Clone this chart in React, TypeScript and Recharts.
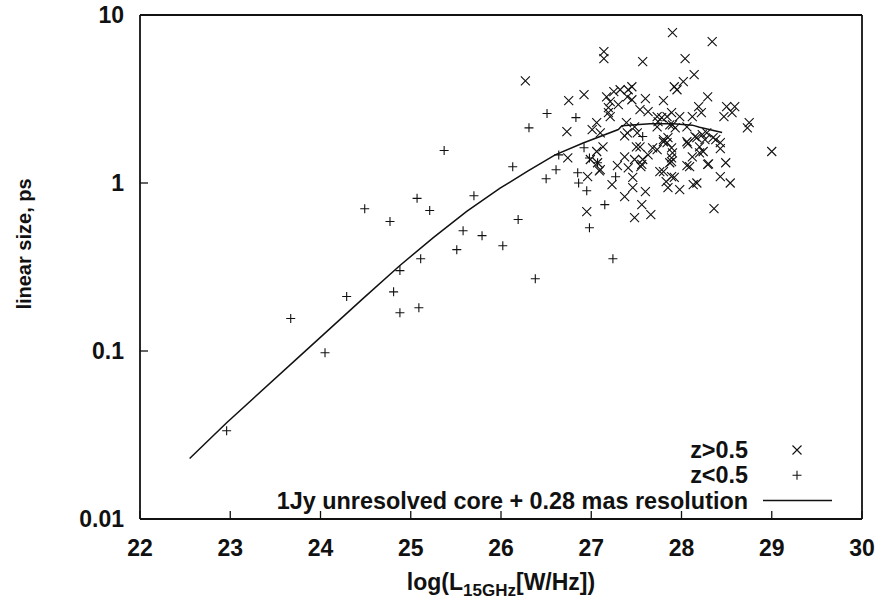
import React from "react";
import { ScatterChart, Scatter, XAxis, YAxis, Legend } from "recharts";

const FONT = '"Liberation Sans", Arial, Helvetica, sans-serif';
const INK = "#111";

// z > 0.5 sources: log L(15 GHz) and linear size (pc)
const highZ_logL = [
  27.9, 28.34, 27.14, 27.14, 27.57, 28.04, 26.27, 28.14, 28.02, 27.92,
  27.95, 26.92, 26.75, 28.29, 27.8, 27.6, 27.17, 27.25, 27.32, 27.41,
  27.45, 27.4, 27.21, 27.3, 27.45, 27.19, 27.21, 27.54, 27.63, 27.73,
  27.89, 27.98, 28.12, 28.19, 28.22, 28.5, 28.59, 28.56, 28.47, 28.75,
  28.73, 26.73, 27.06, 27.01, 27.39, 27.48, 27.73, 27.9, 27.93, 28.06,
  27.4, 27.37, 27.51, 27.1, 27.13, 27.06, 26.99, 27.1, 26.74, 26.96,
  27.23, 27.29, 27.37, 27.41, 27.46, 27.46, 27.37, 27.6, 27.56, 27.66,
  27.48, 26.95, 27.5, 27.57, 27.56, 27.63, 27.68, 27.73, 27.8, 27.84,
  27.9, 27.89, 27.8, 27.89, 27.83, 27.85, 27.98, 28.13, 28.17, 28.06,
  28.09, 28.07, 28.17, 28.2, 28.24, 28.3, 28.28, 28.35, 28.38, 28.43,
  28.43, 28.49, 28.43, 28.54, 28.36, 29.0, 27.78, 27.84, 27.07, 27.19,
  27.54, 27.48, 27.74, 27.87, 27.85, 27.8, 27.89, 28.06, 28.15, 28.23,
  28.26, 28.2, 28.12, 27.89, 27.87, 28.29, 27.76, 27.92, 27.09, 27.55,
];
const highZ_size = [
  7.85, 6.94, 6.05, 5.5, 5.27, 5.5, 4.06, 4.41, 4.01, 3.74,
  3.59, 3.36, 3.09, 3.26, 3.09, 3.18, 3.26, 3.5, 3.59, 3.59,
  3.74, 3.26, 3.05, 2.93, 3.13, 2.81, 2.48, 2.73, 2.66, 2.48,
  2.62, 2.48, 2.48, 2.85, 2.62, 2.85, 2.85, 2.62, 2.48, 2.29,
  2.13, 2.02, 2.29, 2.08, 2.29, 2.16, 2.16, 2.22, 2.13, 2.16,
  1.99, 1.91, 1.99, 1.99, 1.64, 1.54, 1.38, 1.2, 1.41, 1.09,
  0.977, 1.27, 1.43, 1.23, 1.08, 0.938, 0.829, 0.888, 0.743, 0.648,
  0.622, 0.675, 1.64, 1.38, 1.29, 1.47, 1.62, 1.58, 1.81, 1.74,
  1.51, 1.34, 1.17, 1.09, 1.02, 0.938, 0.912, 0.977, 1.0, 1.27,
  1.25, 1.71, 1.86, 1.64, 1.54, 1.3, 1.99, 1.86, 1.81, 1.74,
  1.6, 1.32, 1.09, 1.0, 0.703, 1.54, 2.45, 2.48, 1.32, 2.62,
  1.64, 1.38, 2.32, 2.22, 1.86, 1.76, 1.62, 1.76, 1.89, 1.94,
  1.81, 1.51, 1.43, 1.41, 1.32, 1.29, 1.17, 1.08, 1.18, 1.25,
];

// z < 0.5 sources
const lowZ_logL = [
  25.37, 24.49, 24.77, 25.07, 25.21, 25.7, 25.58, 25.79, 25.51, 25.11,
  24.88, 24.81, 24.29, 26.02, 24.88, 25.09, 23.67, 24.05, 22.96, 26.51,
  26.31, 26.83, 26.13, 26.61, 26.5, 26.64, 26.19, 26.38, 26.92, 26.98,
  26.85, 26.86, 26.95, 27.07, 27.27, 27.15, 26.98, 27.24, 27.57,
];
const lowZ_size = [
  1.56, 0.703, 0.59, 0.81, 0.686, 0.84, 0.52, 0.486, 0.401, 0.354,
  0.301, 0.225, 0.211, 0.423, 0.169, 0.181, 0.156, 0.0977, 0.0335, 2.59,
  2.13, 2.45, 1.25, 1.2, 1.06, 1.47, 0.606, 0.269, 1.62, 1.41,
  1.15, 1.0, 0.9, 1.32, 1.09, 0.743, 0.542, 0.354, 1.89,
];

// model curve: 1 Jy unresolved core + 0.28 mas resolution
const model_logL = [
  22.55, 22.96, 23.77, 24.47, 24.88, 25.25, 25.62, 25.99, 26.3, 26.6,
  26.91, 27.3, 27.34, 27.65, 27.91, 28.12, 28.2, 28.45,
];
const model_size = [
  0.0229, 0.0374, 0.0932, 0.205, 0.323, 0.473, 0.677, 0.931, 1.18, 1.47,
  1.73, 2.08, 2.19, 2.25, 2.25, 2.21, 2.15, 2.0,
];

const SERIES_NAMES = ["z>0.5", "z<0.5", "1Jy unresolved core + 0.28 mas resolution"];

const X_TICKS = [22, 23, 24, 25, 26, 27, 28, 29, 30];
const Y_TICKS = [0.01, 0.1, 1, 10];
const Y_MINOR = [
  0.02, 0.03, 0.04, 0.05, 0.06, 0.07, 0.08, 0.09,
  0.2, 0.3, 0.4, 0.5, 0.6, 0.7, 0.8, 0.9,
  2, 3, 4, 5, 6, 7, 8, 9,
];

const zip = (xs: number[], ys: number[]) => xs.map((x, i) => ({ x, y: ys[i] }));
const highZ = zip(highZ_logL, highZ_size);
const lowZ = zip(lowZ_logL, lowZ_size);
const model = zip(model_logL, model_size);

const R = 4.5;

const CrossMark = (props: any) => {
  const { cx, cy } = props;
  if (cx == null || cy == null) return <g />;
  return (
    <path
      d={`M${cx - R},${cy - R}L${cx + R},${cy + R}M${cx - R},${cy + R}L${cx + R},${cy - R}`}
      stroke={INK}
      strokeWidth={1.1}
      fill="none"
    />
  );
};

const PlusMark = (props: any) => {
  const { cx, cy } = props;
  if (cx == null || cy == null) return <g />;
  return (
    <path
      d={`M${cx - R},${cy}L${cx + R},${cy}M${cx},${cy - R}L${cx},${cy + R}`}
      stroke={INK}
      strokeWidth={1.1}
      fill="none"
    />
  );
};

const NoMark = () => <g />;

const tickText = { fill: INK, fontSize: 23, fontWeight: "bold", fontFamily: FONT };
const frame = { stroke: INK, strokeWidth: 1.8 };
const tickLn = { stroke: INK, strokeWidth: 1.3 };

const XTitle = (props: any) => {
  const vb = props.viewBox || {};
  const cx = vb.x + vb.width / 2;
  return (
    <text x={cx} y={vb.y + 71} textAnchor="middle" fill={INK} fontFamily={FONT} fontWeight="bold" fontSize={23}>
      log(L
      <tspan fontSize={17} dy={6}>15GHz</tspan>
      <tspan dy={-6}>[W/Hz])</tspan>
    </text>
  );
};

const YTitle = (props: any) => {
  const vb = props.viewBox || {};
  const x = vb.x + vb.width - 116;
  const y = vb.y + 229;
  return (
    <text
      x={x}
      y={y}
      transform={`rotate(-90, ${x}, ${y})`}
      textAnchor="middle"
      dominantBaseline="central"
      fill={INK}
      fontFamily={FONT}
      fontWeight="bold"
      fontSize={20}
    >
      linear size, ps
    </text>
  );
};

const KeyBox = (props: any) => {
  const items = props.payload || [];
  const textX = 748;
  const markX = 797;
  return (
    <svg width={883} height={601} style={{ overflow: "visible" }}>
      {SERIES_NAMES.map((name, i) => {
        const it = items.find((p: any) => p.value === name);
        if (!it) return null;
        const cy = 450 + i * 25.3;
        let mark;
        if (i === 0) mark = <CrossMark cx={markX} cy={cy} />;
        else if (i === 1) mark = <PlusMark cx={markX} cy={cy} />;
        else mark = <line x1={763} x2={832} y1={cy} y2={cy} stroke={INK} strokeWidth={1.5} />;
        return (
          <g key={name}>
            <text x={textX} y={cy + 8} textAnchor="end" fill={INK} fontFamily={FONT} fontWeight="bold" fontSize={23.4}>
              {it.value}
            </text>
            {mark}
          </g>
        );
      })}
    </svg>
  );
};

export default function App() {
  return (
    <div style={{ position: "absolute", left: 0, top: 0, width: 883, height: 601, background: "#fff" }}>
      <ScatterChart width={883} height={601} margin={{ top: 14, right: 19, bottom: 81, left: 138 }}>
        <XAxis
          xAxisId="b"
          type="number"
          dataKey="x"
          domain={[22, 30]}
          ticks={X_TICKS}
          interval={0}
          allowDataOverflow
          height={1}
          tickSize={-8}
          tickMargin={29}
          tick={tickText}
          axisLine={frame}
          tickLine={tickLn}
          label={<XTitle />}
        />
        <XAxis
          xAxisId="t"
          orientation="top"
          type="number"
          dataKey="x"
          domain={[22, 30]}
          ticks={X_TICKS}
          interval={0}
          allowDataOverflow
          height={1}
          tickSize={-8}
          tick={false}
          axisLine={frame}
          tickLine={tickLn}
        />
        <YAxis
          yAxisId="l"
          type="number"
          dataKey="y"
          scale="log"
          domain={[0.01, 10]}
          ticks={Y_TICKS}
          interval={0}
          allowDataOverflow
          width={1}
          tickSize={-8}
          tickMargin={24}
          tick={tickText}
          axisLine={frame}
          tickLine={tickLn}
          label={<YTitle />}
        />
        <YAxis
          yAxisId="lm"
          type="number"
          scale="log"
          domain={[0.01, 10]}
          ticks={Y_MINOR}
          interval={0}
          allowDataOverflow
          width={1}
          tickSize={-5.5}
          tick={false}
          axisLine={false}
          tickLine={tickLn}
        />
        <YAxis
          yAxisId="r"
          orientation="right"
          type="number"
          scale="log"
          domain={[0.01, 10]}
          ticks={Y_TICKS}
          interval={0}
          allowDataOverflow
          width={1}
          tickSize={-8}
          tick={false}
          axisLine={frame}
          tickLine={tickLn}
        />
        <YAxis
          yAxisId="rm"
          orientation="right"
          type="number"
          scale="log"
          domain={[0.01, 10]}
          ticks={Y_MINOR}
          interval={0}
          allowDataOverflow
          width={1}
          tickSize={-5.5}
          tick={false}
          axisLine={false}
          tickLine={tickLn}
        />
        <Legend
          layout="vertical"
          align="center"
          verticalAlign="middle"
          content={<KeyBox />}
          wrapperStyle={{ left: 0, top: 0, width: 883, height: 601, pointerEvents: "none" }}
        />
        <Scatter
          name={SERIES_NAMES[0]}
          data={highZ}
          xAxisId="b"
          yAxisId="l"
          shape={<CrossMark />}
          isAnimationActive={false}
        />
        <Scatter
          name={SERIES_NAMES[1]}
          data={lowZ}
          xAxisId="b"
          yAxisId="l"
          shape={<PlusMark />}
          isAnimationActive={false}
        />
        <Scatter
          name={SERIES_NAMES[2]}
          data={model}
          xAxisId="b"
          yAxisId="l"
          shape={<NoMark />}
          line={{ stroke: INK, strokeWidth: 1.5 }}
          fill={INK}
          isAnimationActive={false}
        />
      </ScatterChart>
    </div>
  );
}
